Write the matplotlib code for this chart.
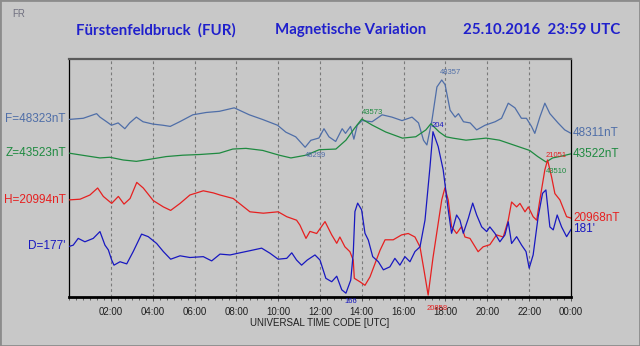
import numpy as np
import matplotlib.pyplot as plt
from matplotlib.patches import Rectangle

plt.rcParams['font.family'] = ['Liberation Sans', 'DejaVu Sans']

# ---- data (hours UTC, values) ----
F_h = [0, 0.68, 1.32, 1.48, 1.80, 2.03, 2.35, 2.67, 2.90, 3.22, 3.54, 4.01, 4.49, 4.84, 5.29,
       5.92, 6.56, 7.19, 7.90, 8.62, 9.25, 9.97, 10.37, 10.84, 11.29, 11.56, 11.95, 12.19, 12.43,
       12.75, 13.06, 13.22, 13.46, 13.62, 13.78, 14.01, 14.49, 14.97, 15.44, 15.92, 16.40, 16.71,
       16.95, 17.11, 17.35, 17.59, 17.82, 17.98, 18.22, 18.46, 18.62, 18.86, 19.18, 19.49, 19.89,
       20.37, 20.68, 21.00, 21.32, 21.63, 21.87, 22.11, 22.27, 22.51, 22.75, 22.99, 23.38, 23.70, 24.0]
F_v = [48323, 48324, 48328, 48325, 48321, 48318, 48320, 48315, 48320, 48325, 48321, 48319, 48318,
       48317, 48321, 48327, 48329, 48330, 48333, 48327, 48323, 48318, 48312, 48308, 48299, 48305,
       48307, 48315, 48308, 48304, 48315, 48311, 48317, 48306, 48318, 48322, 48321, 48327, 48325,
       48322, 48325, 48320, 48305, 48301, 48322, 48351, 48357, 48353, 48331, 48325, 48328, 48321,
       48320, 48314, 48318, 48321, 48324, 48337, 48333, 48324, 48324, 48317, 48311, 48325, 48337,
       48328, 48320, 48314, 48311]

Z_h = [0, 0.84, 1.48, 1.95, 2.59, 3.22, 3.86, 4.65, 5.44, 6.24, 7.19, 7.83, 8.46, 9.26, 10.05,
       10.61, 11.33, 11.96, 12.76, 13.24, 13.64, 14.0, 14.5, 15.14, 15.94, 16.58, 17.06, 17.30,
       17.70, 18.02, 18.35, 18.98, 19.94, 20.58, 21.06, 21.54, 22.02, 22.41, 22.81, 23.12, 23.6, 24.0]
Z_v = [43523, 43519, 43516, 43517, 43513, 43511, 43514, 43518, 43520, 43521, 43523, 43529, 43530,
       43527, 43520, 43516, 43520, 43528, 43529, 43542, 43559, 43573, 43564, 43554, 43545, 43547,
       43557, 43566, 43554, 43547, 43545, 43542, 43545, 43542, 43537, 43532, 43527, 43518, 43510,
       43516, 43519, 43522]

H_h = [0, 0.53, 1.0, 1.37, 1.64, 2.04, 2.36, 2.63, 2.92, 3.24, 3.55, 4.03, 4.51, 4.86, 5.31,
       5.78, 6.42, 6.9, 7.22, 7.85, 8.65, 9.29, 10.0, 10.41, 10.88, 11.04, 11.33, 11.52, 11.84,
       12.24, 12.56, 12.80, 12.95, 13.19, 13.43, 13.59, 13.64, 13.91, 14.15, 14.39, 14.63, 14.87,
       15.11, 15.5, 15.9, 16.22, 16.54, 16.78, 16.97, 17.17, 17.4, 17.82, 17.97, 18.13, 18.29,
       18.53, 18.77, 18.93, 19.17, 19.56, 19.80, 20.12, 20.44, 20.76, 21.0, 21.16, 21.4, 21.56,
       21.8, 21.96, 22.19, 22.36, 22.51, 22.75, 22.88, 23.07, 23.23, 23.47, 23.79, 24.0]
H_v = [20994, 20995, 21001, 21011, 20999, 20989, 20999, 20988, 20996, 21019, 21011, 20993, 20984,
       20979, 20989, 21001, 21007, 21004, 21001, 20996, 20977, 20975, 20977, 20970, 20965, 20958,
       20939, 20949, 20946, 20963, 20944, 20932, 20941, 20927, 20920, 20908, 20882, 20877, 20872,
       20884, 20903, 20922, 20937, 20937, 20944, 20946, 20941, 20927, 20894, 20858, 20911, 20994,
       21011, 20994, 20956, 20946, 20956, 20941, 20939, 20920, 20927, 20930, 20944, 20941, 20965,
       20991, 20984, 20989, 20977, 20984, 20970, 20965, 20994, 21037, 21051, 21027, 21003, 20994,
       20970, 20968]

D_h = [0, 0.2, 0.44, 0.76, 1.16, 1.48, 1.72, 1.88, 2.04, 2.15, 2.44, 2.76, 3.07, 3.47, 3.79,
       4.19, 4.51, 4.86, 5.31, 5.78, 6.42, 6.82, 7.22, 7.7, 8.17, 8.65, 9.21, 9.61, 10.0, 10.41,
       10.65, 10.88, 11.12, 11.39, 11.76, 12.0, 12.28, 12.56, 12.8, 13.04, 13.24, 13.47, 13.59,
       13.67, 13.8, 13.99, 14.15, 14.31, 14.52, 14.79, 15.03, 15.34, 15.58, 15.82, 16.06, 16.3,
       16.54, 16.78, 17.02, 17.26, 17.4, 17.65, 17.89, 18.13, 18.29, 18.53, 18.69, 18.85, 19.09,
       19.3, 19.49, 19.73, 19.97, 20.12, 20.36, 20.6, 20.84, 21.0, 21.16, 21.4, 21.64, 21.85,
       22.0, 22.19, 22.43, 22.64, 22.8, 22.99, 23.15, 23.34, 23.55, 23.79, 24.0]
D_v = [177, 177.3, 178.9, 178.1, 178.9, 180.5, 177.3, 176.2, 173.8, 172.6, 173.4, 172.9, 175.8,
       179.9, 179.3, 177.7, 175.8, 174.0, 174.8, 174.4, 174.6, 173.6, 175.2, 175.0, 175.5, 176.0,
       176.6, 175.4, 174.0, 174.2, 175.5, 173.8, 172.6, 173.8, 175.0, 173.8, 169.5, 168.7, 170.0,
       166.8, 166.0, 169.1, 175.4, 185.2, 187.2, 185.6, 180.1, 178.5, 174.6, 173.4, 171.5, 172.2,
       174.2, 172.6, 174.6, 173.4, 175.8, 176.9, 183.2, 195.8, 204.0, 200.5, 195.0, 185.6, 180.1,
       184.4, 183.2, 180.1, 183.6, 187.2, 184.4, 181.6, 180.5, 181.6, 180.1, 178.1, 179.7, 182.8,
       177.7, 179.3, 177.3, 175.8, 171.9, 175.0, 184.0, 189.5, 190.3, 181.6, 180.9, 184.4, 181.6,
       179.3, 181.0]

tick_labels = ['02:00', '04:00', '06:00', '08:00', '10:00', '12:00',
               '14:00', '16:00', '18:00', '20:00', '22:00', '00:00']

BG = '#c8c8c8'
C_F = '#4f6ea8'
C_Z = '#1e8a40'
C_H = '#e62020'
C_D = '#1818c0'
C_T = '#2020cc'

fig = plt.figure(figsize=(6.4, 3.46), dpi=100, facecolor=BG)
ax = fig.add_axes([69 / 640, 1 - 297 / 346, 502 / 640, 238 / 346])
ax.set_facecolor(BG)
ax.set_xlim(0, 24)
ax.set_ylim(297, 59)  # rows on screen, each trace gets its own offset/scale


def rows(v, anchor_v, anchor_row, px):
    return anchor_row + (anchor_v - np.asarray(v, dtype=float)) * px


# anchor value, screen row of anchor, pixels per unit
sc_F = (48357, 80, 1.16)
sc_Z = (43573, 119, 0.683)
sc_H = (21051, 160, 0.70)
sc_D = (204, 131.7, 4.25)

for h in range(2, 24, 2):
    ax.axvline(h, color='#7a7a7a', lw=0.8, ls=(0, (2.5, 2.5)), zorder=1)

ax.plot(F_h, rows(F_v, *sc_F), color=C_F, lw=0.9, zorder=3)
ax.plot(Z_h, rows(Z_v, *sc_Z), color=C_Z, lw=0.9, zorder=3)
ax.plot(H_h, rows(H_v, *sc_H), color=C_H, lw=0.9, zorder=3)
ax.plot(D_h, rows(D_v, *sc_D), color=C_D, lw=0.9, zorder=4)

# extreme value labels
ext = [(F_h, F_v, sc_F, C_F, np.argmax, (6.5, 5.4)),
       (F_h, F_v, sc_F, C_F, np.argmin, (7.6, -5.8)),
       (Z_h, Z_v, sc_Z, C_Z, np.argmax, (7.5, 4.7)),
       (Z_h, Z_v, sc_Z, C_Z, np.argmin, (7.5, -6.8)),
       (H_h, H_v, sc_H, C_H, np.argmax, (6.5, 3.2)),
       (H_h, H_v, sc_H, C_H, np.argmin, (6.5, -9.4)),
       (D_h, D_v, sc_D, C_D, np.argmax, (3.6, 4.5)),
       (D_h, D_v, sc_D, C_D, np.argmin, (3.6, -5.9))]
for hh, vv, sc, col, fn, off in ext:
    i = fn(vv)
    ax.annotate('%d' % round(vv[i]), (hh[i], rows(vv[i], *sc)), xytext=off,
                textcoords='offset points', ha='center', va='center',
                fontsize=5.5, color=col, annotation_clip=False, zorder=5)

# start / end labels
starts = [(F_v, sc_F, C_F, 'F=%dnT'), (Z_v, sc_Z, C_Z, 'Z=%dnT'),
          (H_v, sc_H, C_H, 'H=%dnT'), (D_v, sc_D, C_D, "D=%d'")]
for vv, sc, col, fmt in starts:
    ax.text(-0.15, rows(vv[0], *sc), fmt % round(vv[0]), ha='right', va='center',
            fontsize=8.5, color=col, clip_on=False)
ends = [(F_v, sc_F, C_F, '%dnT'), (Z_v, sc_Z, C_Z, '%dnT'),
        (H_v, sc_H, C_H, '%dnT'), (D_v, sc_D, C_D, "%d'")]
for vv, sc, col, fmt in ends:
    ax.text(24.1, rows(vv[-1], *sc), fmt % round(vv[-1]), ha='left', va='center',
            fontsize=8.5, color=col, clip_on=False)

# axes frame
for s in ['left', 'right']:
    ax.spines[s].set_color('black')
    ax.spines[s].set_linewidth(0.9)
ax.spines['top'].set_color('#5a5a5a')
ax.spines['top'].set_linewidth(1.6)
ax.spines['bottom'].set_color('black')
ax.spines['bottom'].set_linewidth(2)

ax.set_yticks([])
ax.set_xticks(range(2, 25, 2))
ax.set_xticklabels(tick_labels, fontsize=7, color='#202020')
ax.set_xticks(np.arange(0, 24.01, 1 / 3), minor=True)
ax.tick_params(axis='x', which='major', length=3, width=0.6, color='#404040', pad=4)
ax.tick_params(axis='x', which='minor', length=2, width=0.6, color='#505050')
ax.set_xlabel('UNIVERSAL TIME CODE [UTC]', fontsize=7, color='#202020', labelpad=1)

# header
fig.text(12 / 640, 1 - 14 / 346, 'FR', fontsize=7, color='#707080', va='center')
tfont = dict(fontsize=10.8, color=C_T, va='center', family=['Lato', 'DejaVu Sans'], weight='bold')
fig.text(76 / 640, 1 - 30 / 346, 'Fürstenfeldbruck  (FUR)', **tfont)
fig.text(275 / 640, 1 - 30 / 346, 'Magnetische Variation', **tfont)
fig.text(463 / 640, 1 - 30 / 346, '25.10.2016  23:59 UTC', **tfont)

fig.patches.append(Rectangle((0, 0), 1, 1, transform=fig.transFigure, fill=False,
                             ec='#8c8c8c', lw=2))

fig.savefig('out.png', dpi=100, facecolor=BG)
